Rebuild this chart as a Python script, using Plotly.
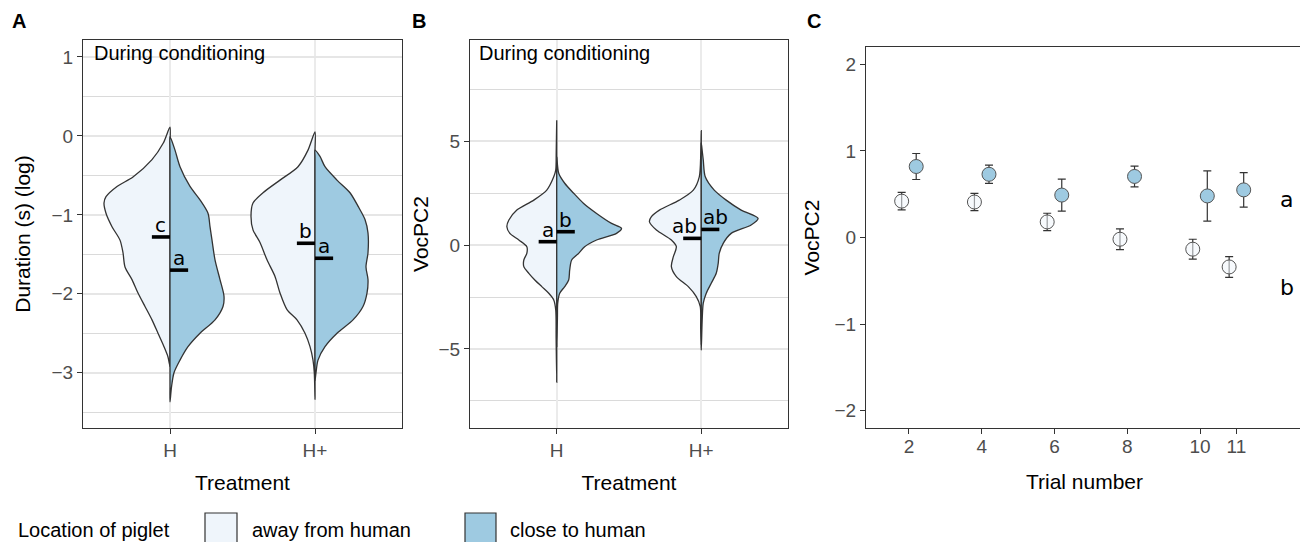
import plotly.graph_objects as go

# ---------------- data ----------------
treatments = ["H", "H+"]
treat_pos = [1, 2]
locations = ["away from human", "close to human"]

# Panel A: split-violin density profiles (y value, half-width density in px-units)
A_H_away_y = [0.11, -0.09, -0.30, -0.52, -0.64, -0.77, -0.85, -0.98, -1.15, -1.32, -1.48, -1.66, -1.82, -1.99, -2.16, -2.33, -2.50, -2.67, -2.80, -2.92]
A_H_away_d = [0, 6.7, 18, 37, 53, 64, 66, 64, 58, 50, 47, 45, 38, 32, 25, 18, 12, 6, 2, 0]
A_H_close_y = [-0.01, -0.18, -0.39, -0.64, -0.81, -0.98, -1.15, -1.32, -1.57, -1.82, -2.03, -2.16, -2.33, -2.50, -2.67, -2.84, -3.00, -3.18, -3.37]
A_H_close_d = [0, 5, 10, 20, 30, 38, 40, 42, 45, 50, 54, 53, 45, 30, 18, 10, 4, 1.5, 0]
A_Hp_away_y = [0.05, -0.18, -0.39, -0.56, -0.72, -0.85, -1.02, -1.19, -1.35, -1.57, -1.78, -1.99, -2.20, -2.33, -2.50, -2.67, -2.84, -3.00, -3.34]
A_Hp_away_d = [0, 7, 17, 35, 52, 62, 64, 62, 55, 48, 40, 35, 28, 18, 10, 5, 2, 0.7, 0]
A_Hp_close_y = [-0.18, -0.26, -0.39, -0.56, -0.72, -0.89, -1.06, -1.23, -1.48, -1.66, -1.82, -1.99, -2.16, -2.33, -2.50, -2.67, -2.84, -3.00, -3.10]
A_Hp_close_d = [0, 5, 10, 22, 35, 43, 50, 53, 53, 51, 53, 52, 48, 38, 22, 10, 3, 1, 0]
A_med_away = [-1.28, -1.36]
A_med_close = [-1.70, -1.55]
A_let_away = ["c", "b"]
A_let_close = ["a", "a"]

# Panel B
B_H_away_y = [6.0, 4.5, 3.6, 3.28, 2.64, 2.16, 1.68, 1.20, 0.88, 0.56, 0.24, -0.08, -0.40, -0.72, -1.04, -1.36, -1.68, -2.00, -2.32, -2.64, -3.12, -4.5, -6.6]
B_H_away_d = [0, 0.5, 1, 3, 10, 23, 40, 48, 50, 47, 38, 30, 30, 33, 33, 28, 22, 15, 8, 3, 1, 0.6, 0]
B_H_close_y = [4.24, 3.45, 2.97, 2.49, 2.00, 1.52, 1.04, 0.80, 0.56, 0.24, -0.08, -0.40, -0.72, -1.20, -1.68, -2.00, -2.32, -2.80, -3.50, -4.90]
B_H_close_d = [0, 2, 8, 17, 27, 40, 55, 65, 60, 40, 28, 22, 15, 13, 12, 8, 3, 1, 0.7, 0]
B_Hp_away_y = [5.5, 4.4, 3.28, 2.64, 2.16, 1.68, 1.36, 1.12, 0.72, 0.24, -0.08, -0.56, -1.04, -1.52, -2.00, -2.48, -2.96, -4.0, -4.8]
B_Hp_away_d = [0, 0.5, 2, 8, 22, 42, 50, 52, 45, 30, 25, 28, 30, 25, 13, 5, 1, 0.6, 0]
B_Hp_close_y = [4.90, 4.72, 4.08, 3.28, 2.64, 2.16, 1.68, 1.28, 0.96, 0.56, 0.08, -0.40, -0.88, -1.36, -1.84, -2.32, -2.80, -3.50, -5.05]
B_Hp_close_d = [0, 0.5, 2, 4, 13, 25, 40, 57, 50, 30, 22, 18, 17, 15, 10, 5, 2, 1, 0]
B_med_away = [0.16, 0.32]
B_med_close = [0.64, 0.75]
B_let_away = ["a", "ab"]
B_let_close = ["b", "ab"]

# Panel C
trials = [2, 4, 6, 8, 10, 11]
away_mean = [0.42, 0.41, 0.18, -0.02, -0.135, -0.34]
away_se = [0.10, 0.10, 0.10, 0.12, 0.115, 0.12]
close_mean = [0.82, 0.73, 0.49, 0.705, 0.48, 0.55]
close_se = [0.15, 0.105, 0.185, 0.12, 0.29, 0.20]
C_letters = ["a", "b"]
C_letter_y = [0.44, -0.58]
C_letter_x = 12.38

# ---------------- styles ----------------
FILL_AWAY = "#EFF5FB"
FILL_CLOSE = "#9ECAE1"
OUTLINE = "#333333"
DENS_SCALE = 1 / 145.0   # density units -> category units
MED_LEN = 0.125
DODGE = 0.2
FONT = "Liberation Sans, Arial, sans-serif"
LFONT = "DejaVu Sans, sans-serif"
PAGE_OFF = 8            # default page margin around the plot div
W, H = 1308 - PAGE_OFF, 542 - PAGE_OFF

fig = go.Figure()


def half_violin(xc, ys, ds, side, color, xa, ya):
    outer_x = [xc + side * d * DENS_SCALE for d in ds]
    inner_y = list(ys[1:-1])[::-1]
    xs = outer_x + [xc] * len(inner_y)
    yy = list(ys) + inner_y
    xs.append(xs[0])
    yy.append(yy[0])
    fig.add_trace(go.Scatter(
        x=xs, y=yy, mode="lines", fill="toself", fillcolor=color,
        line=dict(color=OUTLINE, width=1.3, shape="spline", smoothing=0.8),
        xaxis=xa, yaxis=ya, showlegend=False, hoverinfo="skip"))


def violin_panel(profiles, med_away, med_close, let_away, let_close, xa, ya, lab_shift):
    for (ya_y, ya_d, yc_y, yc_d), xc in zip(profiles, treat_pos):
        half_violin(xc, ya_y, ya_d, -1, FILL_AWAY, xa, ya)
        half_violin(xc, yc_y, yc_d, 1, FILL_CLOSE, xa, ya)
    for i, (xc, ma, mc, la, lc) in enumerate(zip(treat_pos, med_away, med_close, let_away, let_close)):
        fig.add_trace(go.Scatter(x=[xc - MED_LEN, xc], y=[ma, ma], mode="lines",
                                 line=dict(color="black", width=3.6), xaxis=xa, yaxis=ya,
                                 showlegend=False, hoverinfo="skip"))
        fig.add_trace(go.Scatter(x=[xc, xc + MED_LEN], y=[mc, mc], mode="lines",
                                 line=dict(color="black", width=3.6), xaxis=xa, yaxis=ya,
                                 showlegend=False, hoverinfo="skip"))
        sa, sc = lab_shift[i]
        for txt, xx, yy, sh in [(la, xc - MED_LEN / 2, ma, sa), (lc, xc + MED_LEN / 2, mc, sc)]:
            fig.add_annotation(x=xx, y=yy, xref=xa, yref=ya, text=txt, showarrow=False,
                               yanchor="bottom", yshift=-1, xshift=sh, borderpad=0,
                               font=dict(family=LFONT, size=20, color="black"))


violin_panel([(A_H_away_y, A_H_away_d, A_H_close_y, A_H_close_d),
              (A_Hp_away_y, A_Hp_away_d, A_Hp_close_y, A_Hp_close_d)],
             A_med_away, A_med_close, A_let_away, A_let_close, "x", "y", [(0, 0), (0, 0)])
violin_panel([(B_H_away_y, B_H_away_d, B_H_close_y, B_H_close_d),
              (B_Hp_away_y, B_Hp_away_d, B_Hp_close_y, B_Hp_close_d)],
             B_med_away, B_med_close, B_let_away, B_let_close, "x2", "y2", [(0, 0), (-8, 5)])

# Panel C points
fig.add_trace(go.Scatter(
    x=[t - DODGE for t in trials], y=away_mean, mode="markers",
    error_y=dict(type="data", array=away_se, color=OUTLINE, thickness=1.2, width=4),
    marker=dict(size=14, color="rgba(240,246,251,0.55)", line=dict(color="#555555", width=1)),
    xaxis="x3", yaxis="y3", showlegend=False, name=locations[0]))
fig.add_trace(go.Scatter(
    x=[t + DODGE for t in trials], y=close_mean, mode="markers",
    error_y=dict(type="data", array=close_se, color=OUTLINE, thickness=1.2, width=4),
    marker=dict(size=14, color=FILL_CLOSE, line=dict(color="#555555", width=1)),
    xaxis="x3", yaxis="y3", showlegend=False, name=locations[1]))
for txt, yy in zip(C_letters, C_letter_y):
    fig.add_annotation(x=C_letter_x, y=yy, xref="x3", yref="y3", text=txt, showarrow=False,
                       font=dict(family=LFONT, size=22, color="black"))

# ---------------- axes ----------------
tickfont = dict(family=FONT, size=19, color="#4D4D4D")
titlefont = dict(family=FONT, size=21, color="black")
common = dict(showline=True, linecolor=OUTLINE, linewidth=1.3, mirror=True, ticks="outside",
              ticklen=5, tickcolor=OUTLINE, tickwidth=1.1, tickfont=tickfont, zeroline=False,
              automargin=False)


def px_x(p):
    return (p - PAGE_OFF) / W


def px_y(p):
    return 1 - (p - PAGE_OFF) / H


yd = [px_y(428), px_y(40)]
fig.update_layout(
    xaxis=dict(domain=[px_x(83), px_x(402)], range=[0.4, 2.6], tickvals=treat_pos, ticktext=treatments,
               showgrid=True, gridcolor="#EBEBEB", gridwidth=2,
               title=dict(text="Treatment", font=titlefont, standoff=15), anchor="y", **common),
    yaxis=dict(domain=yd, range=[-3.70, 1.215], tickvals=[-3, -2, -1, 0, 1],
               showgrid=True, gridcolor="#E6E6E6", gridwidth=1.5,
               minor=dict(tickvals=[-3.5, -2.5, -1.5, -0.5, 0.5], showgrid=True, gridcolor="#DADADA", gridwidth=1),
               title=dict(text="Duration (s) (log)", font=titlefont, standoff=15), anchor="x", **common),
    xaxis2=dict(domain=[px_x(470), px_x(788)], range=[0.4, 2.6], tickvals=treat_pos, ticktext=treatments,
                showgrid=True, gridcolor="#EBEBEB", gridwidth=2,
                title=dict(text="Treatment", font=titlefont, standoff=15), anchor="y2", **common),
    yaxis2=dict(domain=yd, range=[-8.8, 9.86], tickvals=[-5, 0, 5],
                showgrid=True, gridcolor="#E6E6E6", gridwidth=1.5,
                minor=dict(tickvals=[-7.5, -2.5, 2.5, 7.5], showgrid=True, gridcolor="#DADADA", gridwidth=1),
                title=dict(text="VocPC2", font=titlefont, standoff=4), anchor="x2", **common),
    xaxis3=dict(domain=[px_x(866), px_x(1303)], range=[0.82, 12.83], tickvals=trials,
                showgrid=False, ticklabelstandoff=-4,
                title=dict(text="Trial number", font=titlefont, standoff=18),
                anchor="y3", **common),
    yaxis3=dict(domain=[px_y(428), px_y(47)], range=[-2.2, 2.2], tickvals=[-2, -1, 0, 1, 2],
                showgrid=False, title=dict(text="VocPC2", font=titlefont, standoff=9),
                anchor="x3", **common),
    width=W, height=H, margin=dict(l=0, r=0, t=0, b=0, autoexpand=False),
    plot_bgcolor="white", paper_bgcolor="white", showlegend=False,
    font=dict(family=FONT),
)

# panel tags and in-panel titles
for txt, xp in [("A", 10), ("B", 410), ("C", 805)]:
    fig.add_annotation(x=px_x(xp), y=px_y(21), xref="paper", yref="paper", text="<b>%s</b>" % txt,
                       showarrow=False, xanchor="left", yanchor="middle",
                       font=dict(family=FONT, size=20, color="black"))
for xp in [92, 477]:
    fig.add_annotation(x=px_x(xp), y=px_y(53), xref="paper", yref="paper", text="During conditioning",
                       showarrow=False, xanchor="left", yanchor="middle",
                       font=dict(family=FONT, size=20, color="black"))

# legend (drawn manually)
fig.add_annotation(x=px_x(16), y=px_y(530), xref="paper", yref="paper", text="Location of piglet",
                   showarrow=False, xanchor="left", yanchor="middle",
                   font=dict(family=FONT, size=20, color="black"))
for (x0, x1, col, tx, lab) in [(205, 237, FILL_AWAY, 250, locations[0]), (465, 496, FILL_CLOSE, 508, locations[1])]:
    fig.add_shape(type="rect", xref="paper", yref="paper", x0=px_x(x0), x1=px_x(x1),
                  y0=px_y(545), y1=px_y(513), fillcolor=col, line=dict(color=OUTLINE, width=1.2))
    fig.add_annotation(x=px_x(tx), y=px_y(530), xref="paper", yref="paper", text=lab,
                       showarrow=False, xanchor="left", yanchor="middle",
                       font=dict(family=FONT, size=20, color="black"))

fig.write_html("out.html")
